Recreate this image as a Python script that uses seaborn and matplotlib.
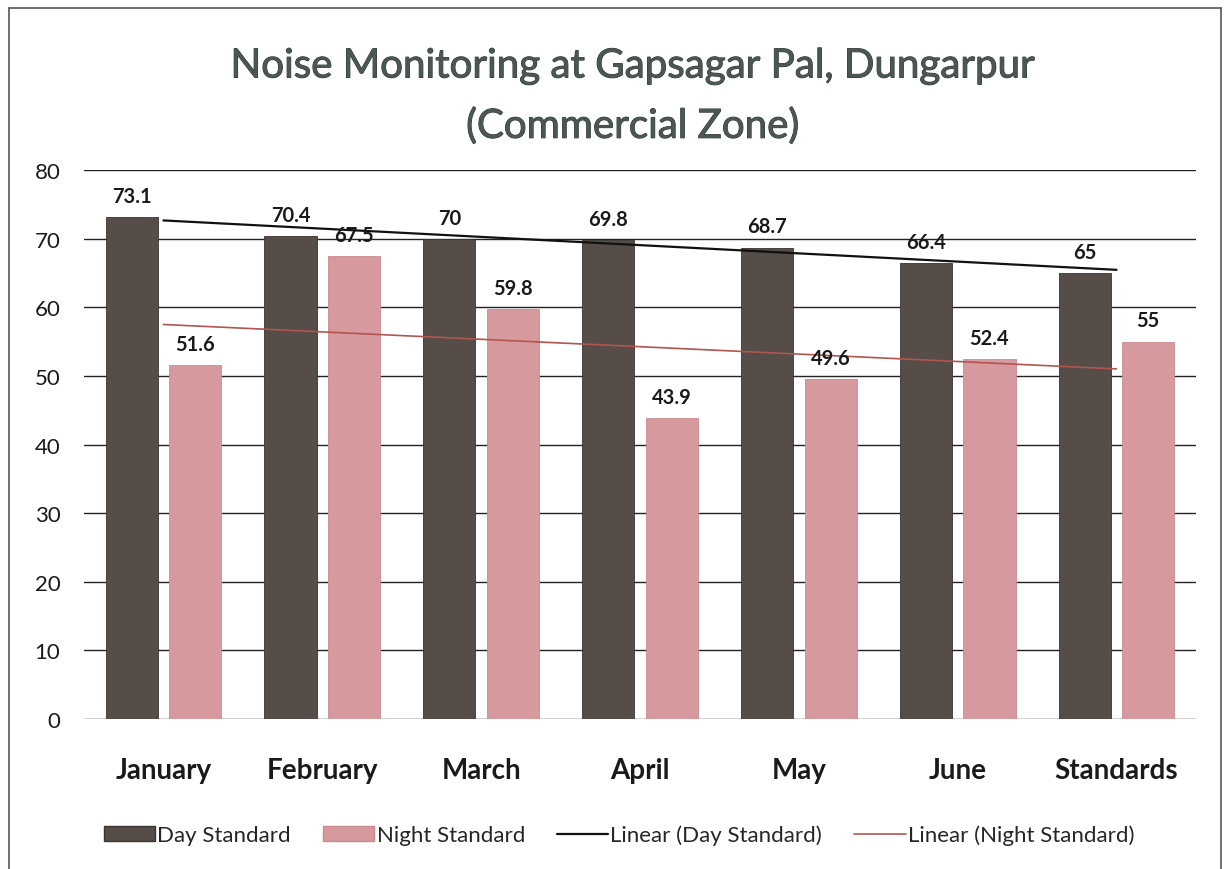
import numpy as np
import pandas as pd
import matplotlib
matplotlib.use('Agg')
import matplotlib.pyplot as plt
import matplotlib.patheffects as pe
from matplotlib.lines import Line2D
from matplotlib.patches import Patch
import seaborn as sns

# data
months = ['January', 'February', 'March', 'April', 'May', 'June', 'Standards']
day_standard = [73.1, 70.4, 70, 69.8, 68.7, 66.4, 65]
night_standard = [51.6, 67.5, 59.8, 43.9, 49.6, 52.4, 55]
day_labels = ['73.1', '70.4', '70', '69.8', '68.7', '66.4', '65']
night_labels = ['51.6', '67.5', '59.8', '43.9', '49.6', '52.4', '55']

df = pd.DataFrame({
    'Month': months * 2,
    'Value': day_standard + night_standard,
    'Series': ['Day Standard'] * 7 + ['Night Standard'] * 7,
})

day_color = '#564c48'
night_color = '#d6999e'

sns.set_style('white')
plt.rcParams['font.family'] = ['Lato', 'DejaVu Sans']

fig = plt.figure(figsize=(12.26, 8.70), dpi=100)
ax = fig.add_axes([0.0685, 0.1724, 0.907, 0.631])

sns.barplot(data=df, x='Month', y='Value', hue='Series', order=months,
            palette=[day_color, night_color], saturation=1, width=0.8, gap=0.18,
            edgecolor='#3a3330', linewidth=0.6, legend=False, ax=ax, zorder=3)
# night bars lighter edge
for p in ax.patches[7:]:
    p.set_edgecolor('#c98a90')

# linear trendlines (Excel style)
pos = np.arange(len(months))
sns.regplot(x=pos, y=day_standard, scatter=False, ci=None, truncate=True,
            line_kws={'color': '#111111', 'lw': 1.6, 'zorder': 4}, ax=ax)
sns.regplot(x=pos, y=night_standard, scatter=False, ci=None, truncate=True,
            line_kws={'color': '#b0554f', 'lw': 1.2, 'zorder': 4}, ax=ax)

# value labels
for cont, labels in zip(ax.containers, [day_labels, night_labels]):
    ax.bar_label(cont, labels=labels, padding=8, fontsize=14.5,
                 fontweight='bold', color='#1a1a1a', zorder=5)

ax.set_xlim(-0.5, 6.5)
ax.set_ylim(0, 80)
ax.set_yticks(range(0, 81, 10))
ax.grid(axis='y', color='#222222', lw=1.0, zorder=0)
ax.set_axisbelow(True)
for s in ax.spines.values():
    s.set_visible(False)
ax.set_xlabel('')
ax.set_ylabel('')
ax.tick_params(axis='y', labelsize=16, length=0, pad=17, colors='#1a1a1a')
ax.tick_params(axis='x', labelsize=20, length=0, pad=27, colors='#1a1a1a')
for t in ax.get_xticklabels():
    t.set_fontweight('bold')

title_fx = [pe.withStroke(linewidth=0.7, foreground='#2f3a36')]
fig.text(0.516, 0.923, 'Noise Monitoring at Gapsagar Pal, Dungarpur',
         ha='center', va='center', fontsize=29, color='#4a5752',
         path_effects=title_fx)
fig.text(0.516, 0.854, '(Commercial Zone)',
         ha='center', va='center', fontsize=29, color='#4a5752',
         path_effects=title_fx)

handles = [
    Patch(facecolor=day_color, edgecolor='#3a3330'),
    Patch(facecolor=night_color, edgecolor='#c98a90'),
    Line2D([0], [0], color='#111111', lw=1.6),
    Line2D([0], [0], color='#b0554f', lw=1.2),
]
names = ['Day Standard', 'Night Standard', 'Linear (Day Standard)', 'Linear (Night Standard)']
fig.legend(handles, names, loc='center', bbox_to_anchor=(0.505, 0.039), ncol=4,
           frameon=False, fontsize=16, handlelength=2.3, handletextpad=0.1,
           columnspacing=1.45)

# outer chart border
fig.add_artist(Line2D([0.0075, 0.0075], [0.0, 0.99], color='#555566', lw=1.2,
                      transform=fig.transFigure))
fig.add_artist(Line2D([0.0075, 0.996], [0.99, 0.99], color='#555566', lw=1.2,
                      transform=fig.transFigure))
fig.add_artist(Line2D([0.996, 0.996], [0.0, 0.99], color='#555566', lw=1.2,
                      transform=fig.transFigure))

fig.savefig('out.png', dpi=100)
